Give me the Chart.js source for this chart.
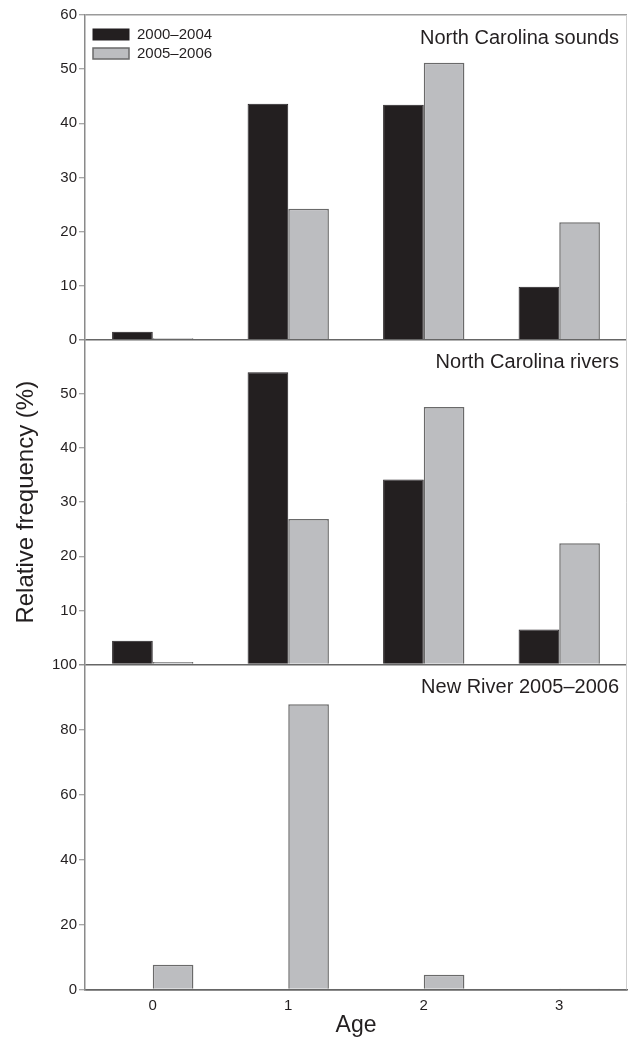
<!DOCTYPE html>
<html><head><meta charset="utf-8">
<script src="https://cdn.jsdelivr.net/npm/chart.js@4/dist/chart.umd.min.js"></script>
<style>html,body{margin:0;padding:0;background:#fff}#wrap{position:relative;width:629px;height:1039px}</style>
</head><body><div id="wrap"><canvas id="c" width="629" height="1039"></canvas></div>
<script>
// ---- data ----
const ages = ['0', '1', '2', '3'];
const seriesNames = ['2000–2004', '2005–2006'];
const panelTitles = ['North Carolina sounds', 'North Carolina rivers', 'New River 2005–2006'];
const soundsEarly = [1.5, 43.6, 43.4, 9.8];
const soundsLate = [0.3, 24.2, 51.2, 21.7];
const riversEarly = [4.4, 54.0, 34.2, 6.5];
const riversLate = [0.5, 26.9, 47.6, 22.4];
const newRiverLate = [7.6, 87.8, 4.5, 0.3];
const xTitle = 'Age';
const yTitle = 'Relative frequency (%)';

const FONT = '"Liberation Sans", Arial, Helvetica, sans-serif';
const BLACK = '#231f20', GRAY = '#bcbdc0', GRAY_EDGE = '#6a6a6a';

function early(data, axis) {
  return { label: seriesNames[0], data, yAxisID: axis, stack: 'a',
    backgroundColor: BLACK, borderColor: BLACK, borderWidth: 1 };
}
function late(data, axis) {
  return { label: seriesNames[1], data, yAxisID: axis, stack: 'b',
    backgroundColor: GRAY, borderColor: GRAY_EDGE, borderWidth: 1.5 };
}

function yAxis(max, step, weight, hide, title) {
  return {
    type: 'linear', position: 'left', stack: 'panels', stackWeight: 1, weight,
    stacked: false, min: 0, max,
    afterFit(s) { s.width = 77; },
    ticks: { stepSize: step, padding: 2, color: '#231f20', font: { family: FONT, size: 15 },
      callback: (v) => hide.includes(v) ? '' : v },
    grid: {
      drawOnChartArea: true, drawTicks: true, tickLength: 6, tickWidth: 1, tickColor: '#8a8a8a',
      lineWidth: 1.5,
      color: (c) => {
        if (!c.tick) return 'transparent';
        if (c.tick.value === 0) return '#666';
        if (c.tick.value === max && weight === 3) return '#9a9a9a';
        return 'transparent';
      }
    },
    border: { display: true, color: '#8a8a8a', width: 1.5 },
    title: title ? { display: true, text: title, color: '#231f20',
      font: { family: FONT, size: 24 }, padding: { top: 4, bottom: 0 } } : { display: false }
  };
}

const panelPlugin = {
  id: 'panels',
  afterDraw(chart) {
    const ctx = chart.ctx, a = chart.chartArea;
    ctx.save();
    // right frame
    ctx.strokeStyle = '#cfcfcf'; ctx.lineWidth = 1;
    ctx.beginPath(); ctx.moveTo(a.right - 0.5, a.top); ctx.lineTo(a.right - 0.5, a.bottom); ctx.stroke();
    // panel titles
    ctx.font = '20px ' + FONT;
    ctx.fillStyle = '#231f20'; ctx.textAlign = 'right'; ctx.textBaseline = 'middle';
    ['yTop', 'yMid', 'yBot'].forEach((id, i) => {
      const s = chart.scales[id];
      ctx.fillText(panelTitles[i], a.right - 8, s.top + 23);
    });
    // legend (inside top panel)
    ctx.font = '15px ' + FONT; ctx.textAlign = 'left';
    [0, 1].forEach((di) => {
      const ds = chart.data.datasets[di];
      const bx = a.left + 8, by = a.top + 14 + di * 19;
      ctx.fillStyle = ds.backgroundColor;
      ctx.fillRect(bx, by, 36, 11);
      ctx.strokeStyle = ds.borderColor; ctx.lineWidth = ds.borderWidth;
      ctx.strokeRect(bx, by, 36, 11);
      ctx.fillStyle = '#231f20';
      ctx.fillText(seriesNames[di], bx + 44, by + 6);
    });
    ctx.restore();
  }
};

new Chart(document.getElementById('c'), {
  type: 'bar',
  data: {
    labels: ages,
    datasets: [
      early(soundsEarly, 'yTop'), late(soundsLate, 'yTop'),
      early(riversEarly, 'yMid'), late(riversLate, 'yMid'),
      late(newRiverLate, 'yBot')
    ]
  },
  options: {
    responsive: false, animation: false, devicePixelRatio: 1,
    categoryPercentage: 0.6, barPercentage: 1.0,
    layout: { padding: { left: 8, top: 15, right: 2, bottom: 0 } },
    scales: {
      x: {
        type: 'category', offset: true,
        grid: { display: false, drawTicks: false, tickLength: 0 },
        border: { display: true, color: '#666', width: 1.5 },
        ticks: { padding: 7, color: '#231f20', font: { family: FONT, size: 15 } },
        title: { display: true, text: xTitle, color: '#231f20',
          font: { family: FONT, size: 23 }, padding: { top: -10, bottom: 0 } }
      },
      yTop: yAxis(60, 10, 3, [], null),
      yMid: yAxis(60, 10, 2, [0, 60], yTitle),
      yBot: yAxis(100, 20, 1, [], null)
    },
    plugins: {
      legend: { display: false },
      tooltip: { enabled: false }
    }
  },
  plugins: [panelPlugin]
});
</script></body></html>
